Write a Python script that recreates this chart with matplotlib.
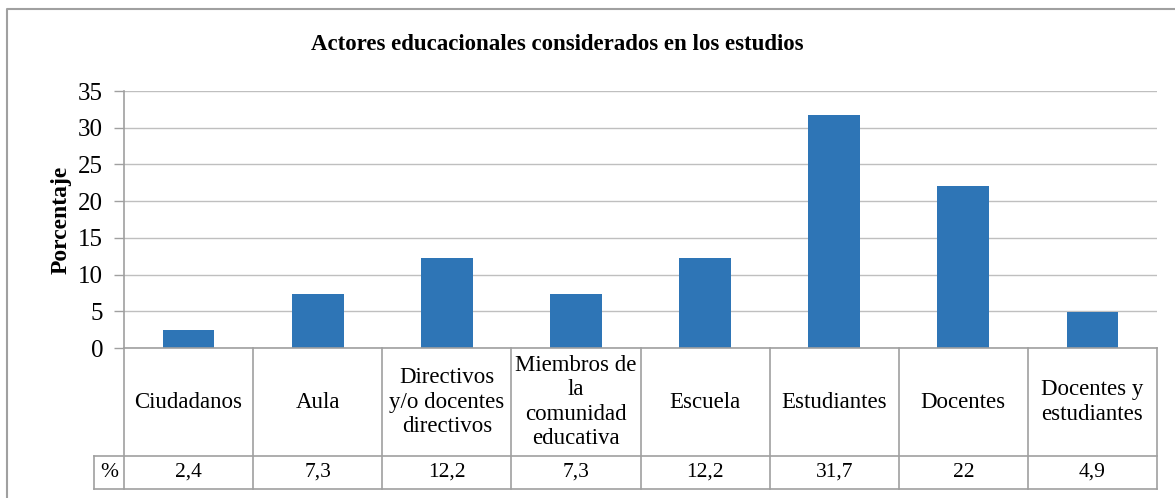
import numpy as np
import matplotlib
matplotlib.use("Agg")
import matplotlib.pyplot as plt
from matplotlib.lines import Line2D
from matplotlib.transforms import blended_transform_factory

plt.rcParams['font.family'] = ['Liberation Serif', 'DejaVu Serif']

categorias = ["Ciudadanos", "Aula", "Directivos\ny/o docentes\ndirectivos",
              "Miembros de\nla\ncomunidad\neducativa", "Escuela", "Estudiantes",
              "Docentes", "Docentes y\nestudiantes"]
porcentajes = [2.4, 7.3, 12.2, 7.3, 12.2, 31.7, 22, 4.9]
etiquetas_valor = ["2,4", "7,3", "12,2", "7,3", "12,2", "31,7", "22", "4,9"]
yticks = [0, 5, 10, 15, 20, 25, 30, 35]

W, H = 1175, 498
fig = plt.figure(figsize=(W / 100, H / 100), dpi=100)

def fx(x):
    return x / W

def fy(y):
    return 1 - y / H

# pixel layout of the plot area
left, right, top, bottom = 124, 1157, 91, 348
ax = fig.add_axes([fx(left), fy(bottom), fx(right - left), fy(top) - fy(bottom)])

grid_col = "#BFBFBF"
line_col = "#A0A0A0"
bar_col = "#2E75B6"

x = np.arange(len(categorias))
ax.bar(x, porcentajes, width=0.4, color=bar_col, zorder=3)
ax.set_xlim(-0.5, len(categorias) - 0.5)
ax.set_ylim(0, 35)
ax.set_yticks(yticks)
ax.set_yticklabels([str(v) for v in yticks], fontsize=18)
ax.set_xticks([])
ax.tick_params(axis='y', length=7, width=1, color=line_col, pad=8)
ax.yaxis.grid(True, color=grid_col, linewidth=1, zorder=0)
for s in ["top", "right", "bottom"]:
    ax.spines[s].set_visible(False)
ax.spines["left"].set_color(line_col)
ax.spines["left"].set_linewidth(1.2)

ax.set_ylabel("Porcentaje", fontsize=17, fontweight="bold", labelpad=5)

fig.text(fx(557), fy(45), "Actores educacionales considerados en los estudios",
         fontsize=16.5, fontweight="bold", ha="center", va="center")

# data table below the axis
tr = blended_transform_factory(ax.transData, fig.transFigure)
row_top, row_mid, row_bot = fy(bottom), fy(456), fy(489)
xmin, xmax = -0.5, len(categorias) - 0.5
pct_left = xmin - (left - 94) / (right - left) * len(categorias)

def hline(x0, x1, y):
    fig.add_artist(Line2D([x0, x1], [y, y], transform=tr, color=line_col, lw=1.2))

def vline(xv, y0, y1):
    fig.add_artist(Line2D([xv, xv], [y0, y1], transform=tr, color=line_col, lw=1.2))

hline(xmin, xmax, row_top)
hline(pct_left, xmax, row_mid)
hline(pct_left, xmax, row_bot)
vline(pct_left, row_mid, row_bot)
for b in np.arange(xmin, xmax + 0.5, 1.0):
    vline(b, row_top, row_bot)

for i, (c, v) in enumerate(zip(categorias, etiquetas_valor)):
    fig.text(i, (row_top + row_mid) / 2, c, transform=tr, fontsize=16.5,
             ha="center", va="center", multialignment="center", linespacing=1.22)
    fig.text(i, (row_mid + row_bot) / 2, v, transform=tr, fontsize=15.5,
             ha="center", va="center")
fig.text((pct_left + xmin) / 2, (row_mid + row_bot) / 2, "%", transform=tr,
         fontsize=15.5, ha="center", va="center")

# outer chart border (extends past the image on right and bottom)
fig.add_artist(Line2D([fx(7), fx(7), fx(1200)], [fy(520), fy(9), fy(9)],
                      transform=fig.transFigure, color=line_col, lw=1.5))

fig.savefig("out.png", dpi=100)
